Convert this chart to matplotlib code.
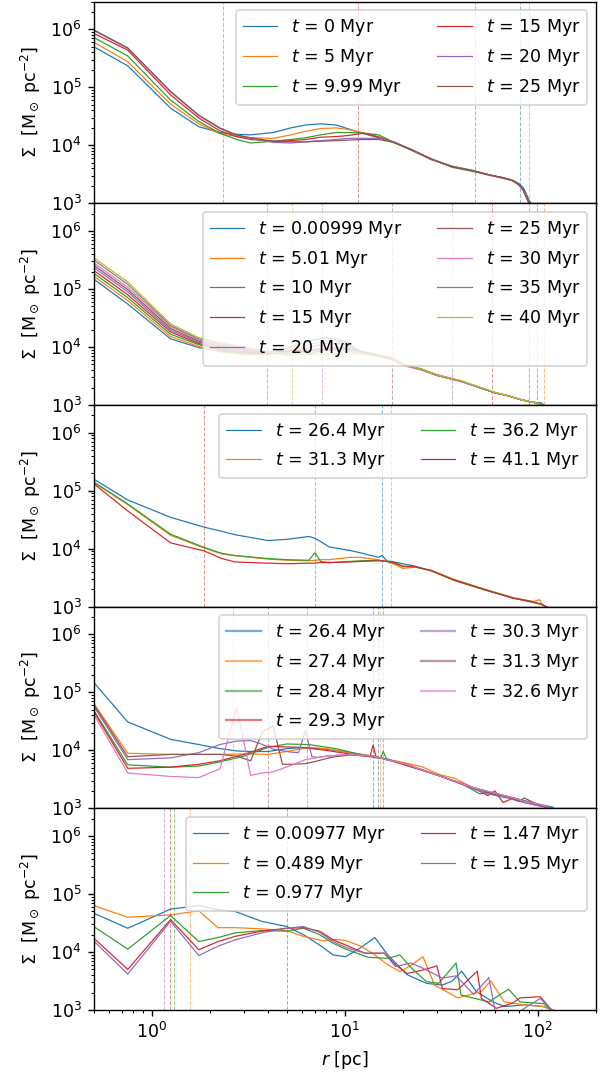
import numpy as np
import matplotlib
matplotlib.use("Agg")
import matplotlib.pyplot as plt

# ---- panel 1 ----
p1_times = ["0", "5", "9.99", "15", "20", "25"]
p1_r = [0.5, 0.75, 1.25, 1.75, 2.25, 2.75, 3.25, 4.25, 5.25, 6.25, 7.5, 9, 10.5, 12.5, 15,
        18, 22, 28, 36, 46, 56, 66, 74, 80, 84, 87, 90, 93]
p1_logsig = [
    [5.70, 5.37, 4.64, 4.32, 4.22, 4.19, 4.18, 4.22, 4.30, 4.35, 4.37, 4.35, 4.28, 4.20, 4.13,
     4.05, 3.92, 3.76, 3.63, 3.56, 3.49, 3.44, 3.40, 3.34, 3.27, 3.17, 3.06, 2.98],
    [5.78, 5.44, 4.71, 4.37, 4.20, 4.15, 4.13, 4.12, 4.18, 4.24, 4.29, 4.30, 4.27, 4.21, 4.15,
     4.04, 3.93, 3.75, 3.64, 3.56, 3.48, 3.44, 3.40, 3.33, 3.24, 3.13, 3.02, 2.95],
    [5.86, 5.54, 4.78, 4.41, 4.21, 4.10, 4.04, 4.07, 4.10, 4.13, 4.18, 4.22, 4.22, 4.21, 4.18,
     4.05, 3.92, 3.76, 3.62, 3.55, 3.49, 3.43, 3.39, 3.32, 3.23, 3.12, 3.01, 2.95],
    [5.93, 5.64, 4.87, 4.47, 4.25, 4.15, 4.10, 4.07, 4.08, 4.10, 4.14, 4.15, 4.17, 4.21, 4.14,
     4.05, 3.93, 3.77, 3.63, 3.56, 3.49, 3.44, 3.39, 3.32, 3.22, 3.11, 3.00, 2.94],
    [5.98, 5.67, 4.92, 4.51, 4.29, 4.17, 4.12, 4.05, 4.04, 4.06, 4.08, 4.10, 4.12, 4.12, 4.12,
     4.06, 3.93, 3.76, 3.64, 3.57, 3.49, 3.44, 3.39, 3.31, 3.22, 3.11, 3.00, 2.94],
    [5.99, 5.68, 4.93, 4.52, 4.30, 4.18, 4.13, 4.07, 4.06, 4.06, 4.07, 4.08, 4.09, 4.10, 4.10,
     4.05, 3.93, 3.76, 3.63, 3.56, 3.49, 3.44, 3.39, 3.32, 3.23, 3.12, 3.01, 2.95],
]
p1_rline = [80.7, 90.1, 47.2, 11.7, 2.35, np.nan]

# ---- panel 2 ----
p2_times = ["0.00999", "5.01", "10", "15", "20", "25", "30", "35", "40"]
p2_r = [0.5, 0.75, 1.25, 1.75, 2.25, 3, 4, 5, 6.5, 8, 10, 12, 15, 17.5, 20, 25, 30, 40, 50,
        60, 70, 80, 90, 100, 104, 108]
p2_logsig = [
    [5.17, 4.74, 4.14, 3.99, 3.93, 3.90, 3.90, 3.98, 4.10, 4.16, 4.10,
     3.93, 3.85, 3.80, 3.70, 3.61, 3.51, 3.41, 3.30, 3.21, 3.16, 3.10, 3.06, 3.04, 3.04, 2.99],
    [5.22, 4.80, 4.18, 4.01, 3.92, 3.87, 3.87, 3.93, 4.04, 4.11, 4.08,
     3.93, 3.86, 3.81, 3.71, 3.61, 3.52, 3.41, 3.30, 3.21, 3.16, 3.10, 3.06, 3.03, 3.01, 2.98],
    [5.27, 4.85, 4.22, 4.04, 3.95, 3.89, 3.88, 3.91, 3.99, 4.06, 4.05,
     3.92, 3.85, 3.81, 3.70, 3.62, 3.52, 3.41, 3.30, 3.21, 3.16, 3.10, 3.06, 3.03, 3.01, 2.98],
    [5.32, 4.90, 4.26, 4.06, 3.97, 3.92, 3.90, 3.93, 3.95, 3.98, 3.99,
     3.92, 3.84, 3.80, 3.70, 3.61, 3.51, 3.41, 3.30, 3.21, 3.16, 3.10, 3.06, 3.03, 3.01, 2.98],
    [5.37, 4.95, 4.29, 4.08, 4.00, 3.94, 3.90, 3.91, 3.93, 3.95, 3.96,
     3.91, 3.84, 3.79, 3.69, 3.61, 3.52, 3.41, 3.30, 3.21, 3.16, 3.10, 3.06, 3.03, 3.01, 2.98],
    [5.41, 4.99, 4.32, 4.10, 4.02, 3.96, 3.91, 3.92, 3.94, 3.98, 3.99,
     3.92, 3.85, 3.81, 3.70, 3.61, 3.51, 3.41, 3.30, 3.21, 3.16, 3.10, 3.06, 3.03, 3.01, 2.98],
    [5.45, 5.03, 4.35, 4.12, 4.04, 3.98, 3.92, 3.88, 3.91, 3.94, 3.93,
     3.90, 3.83, 3.78, 3.68, 3.60, 3.51, 3.40, 3.30, 3.21, 3.16, 3.10, 3.06, 3.03, 3.01, 2.98],
    [5.50, 5.08, 4.37, 4.14, 4.06, 3.99, 3.92, 3.86, 3.88, 3.95, 3.97,
     3.92, 3.85, 3.80, 3.70, 3.61, 3.52, 3.41, 3.30, 3.21, 3.16, 3.10, 3.06, 3.03, 3.01, 2.98],
    [5.54, 5.12, 4.40, 4.16, 4.08, 4.00, 3.92, 3.88, 3.87, 3.88, 3.88,
     3.88, 3.84, 3.80, 3.70, 3.62, 3.52, 3.42, 3.31, 3.22, 3.16, 3.10, 3.06, 3.03, 3.01, 2.98],
]
p2_rline = [99.1, 107, 90.1, 58.2, 36.1, 17.5, 7.57, 3.93, 5.33]

# ---- panel 3 ----
p3_times = ["26.4", "31.3", "36.2", "41.1"]
p3_r = [0.5, 0.75, 1.25, 1.87, 2.3, 2.7, 4, 5, 6.5, 7, 7.5, 8.3, 10.6, 12, 14.9, 15.6, 16.5,
        18, 20, 23, 28, 37, 53, 74, 95, 102, 106, 112]
p3_logsig = [
    [5.20, 4.84, 4.54, 4.37, 4.30, 4.24, 4.14, 4.16, 4.21, 4.18, 4.12, 4.03, 3.97, 3.93, 3.85,
     3.88, 3.79, 3.77, 3.74, 3.70, 3.62, 3.46, 3.29, 3.15, 3.07, 3.05, 3.03, 2.99],
    [5.14, 4.76, 4.23, 4.01, 3.91, 3.88, 3.82, 3.80, 3.79, 3.80, 3.81, 3.81, 3.85, 3.85, 3.81,
     3.79, 3.78, 3.73, 3.66, 3.68, 3.63, 3.47, 3.30, 3.16, 3.09, 3.12, 3.03, 2.99],
    [5.15, 4.77, 4.25, 4.02, 3.92, 3.88, 3.83, 3.81, 3.80, 3.93, 3.78, 3.76, 3.78, 3.79, 3.80,
     3.79, 3.78, 3.75, 3.69, 3.69, 3.62, 3.46, 3.30, 3.15, 3.08, 3.05, 3.03, 2.99],
    [5.12, 4.65, 4.10, 3.96, 3.83, 3.77, 3.75, 3.74, 3.75, 3.75, 3.76, 3.76, 3.77, 3.78, 3.79,
     3.79, 3.78, 3.76, 3.70, 3.69, 3.62, 3.45, 3.29, 3.15, 3.08, 3.05, 3.03, 2.99],
]
p3_rline = [15.6, 17.4, 7.02, 1.87]

# ---- panel 4 ----
p4_times = ["26.4", "27.4", "28.4", "29.3", "30.3", "31.3", "32.6"]
p4_r = [
    [0.5, 0.75, 1.25, 1.75, 2.25, 2.75, 3.25, 4, 5, 6.3, 8, 9.4, 14, 20.8, 31, 46, 69, 102, 120],
    [0.5, 0.75, 1.25, 2.25, 3.25, 4, 5, 6.5, 8, 9.4, 12, 14, 17, 20.8, 25, 31, 37, 46, 55, 69,
     85, 102, 115],
    [0.5, 0.75, 1.25, 1.75, 2.25, 3, 4, 5, 6.5, 9, 12, 14, 15.3, 15.8, 16.4, 20, 25, 31, 40, 50,
     55, 69, 85, 102, 118],
    [0.5, 0.75, 1.25, 1.75, 2.25, 3, 4, 6, 8, 12, 13.5, 14, 14.5, 20, 31, 46, 55, 60, 66, 75,
     85, 102, 118],
    [0.5, 0.75, 1.25, 1.75, 2.25, 2.75, 3.25, 3.75, 4.25, 5.25, 5.75, 6.25, 6.75, 7.25, 8, 10.6,
     14, 20.8, 31, 46, 55, 69, 85, 102, 120],
    [0.5, 0.75, 1.25, 1.75, 2.25, 2.75, 3.25, 3.75, 4.25, 4.75, 5.25, 6.25, 7.25, 8.5, 10.6, 14,
     20.8, 31, 46, 60, 69, 80, 85, 102, 118],
    [0.5, 0.75, 1.25, 1.75, 2.25, 2.75, 3.25, 3.75, 4.25, 5.25, 6.25, 8, 10.6, 14, 20.8, 31, 46,
     69, 90, 102, 118],
]
p4_logsig = [
    [5.17, 4.49, 4.19, 4.10, 4.03, 3.99, 3.98, 3.98, 4.03, 4.05, 4.02, 3.99, 3.90, 3.76, 3.56,
     3.36, 3.21, 3.07, 3.02],
    [4.81, 3.95, 3.93, 3.93, 3.94, 3.93, 3.98, 4.05, 4.03, 3.99, 3.93, 3.90, 3.84, 3.78, 3.72,
     3.58, 3.52, 3.36, 3.27, 3.21, 3.12, 3.06, 3.00],
    [4.69, 3.75, 3.71, 3.73, 3.80, 3.90, 4.05, 4.11, 4.10, 4.03, 3.93, 3.88, 3.86, 3.98, 3.86,
     3.76, 3.66, 3.56, 3.43, 3.25, 3.28, 3.20, 3.13, 3.05, 3.00],
    [4.67, 3.69, 3.71, 3.76, 3.82, 3.93, 4.07, 4.05, 4.00, 3.91, 3.89, 4.09, 3.89, 3.76, 3.56,
     3.36, 3.22, 3.30, 3.10, 3.18, 3.10, 3.05, 3.00],
    [4.76, 3.84, 3.87, 3.96, 4.10, 4.16, 4.17, 4.10, 4.02, 3.97, 3.96, 4.34, 3.89, 3.88, 3.90,
     3.93, 3.90, 3.76, 3.56, 3.34, 3.25, 3.18, 3.10, 3.04, 3.00],
    [4.79, 3.89, 3.93, 3.93, 3.93, 3.90, 3.82, 4.33, 4.42, 3.76, 3.76, 3.77, 3.82, 3.88, 3.92,
     3.90, 3.76, 3.56, 3.36, 3.24, 3.21, 3.12, 3.18, 3.05, 3.00],
    [4.62, 3.61, 3.55, 3.53, 3.68, 4.74, 3.57, 3.61, 3.63, 3.74, 3.84, 3.90, 3.93, 3.90, 3.76,
     3.56, 3.36, 3.21, 3.10, 3.07, 3.00],
]
p4_rline = [14.9, 15.2, 15.8, 14.0, 6.38, 3.98, 2.64]

# ---- panel 5 ----
p5_times = ["0.00977", "0.489", "0.977", "1.47", "1.95"]
p5_r = [
    [0.5, 0.75, 1.25, 1.75, 2.2, 2.7, 3.7, 5.0, 6.1, 7.4, 8.7, 10.1, 12, 14.3, 16.7, 21, 26.5,
     32, 36, 40.3, 48, 58.5, 67.4, 85, 107, 120],
    [0.5, 0.75, 1.25, 1.75, 2.2, 2.7, 3.7, 5.0, 6.1, 7.8, 8.7, 10.1, 12.1, 13.9, 16.7, 19.3,
     22.2, 25.4, 29.2, 38.5, 51, 57, 67, 85, 107, 118],
    [0.5, 0.75, 1.25, 1.75, 2.2, 2.7, 3.7, 5.0, 6.1, 7.4, 8.7, 10.1, 13.2, 16.7, 19.3, 22.2,
     26.5, 30.6, 37.7, 40, 55.7, 70.5, 80.8, 107, 118],
    [0.5, 0.75, 1.25, 1.75, 2.2, 2.7, 3.7, 5.0, 6.1, 7.4, 8.7, 10.1, 12.7, 16, 18.3, 21, 25.4,
     30, 32, 38.5, 48.5, 51, 61, 74, 81, 103, 118],
    [0.5, 0.75, 1.25, 1.75, 2.2, 2.7, 3.7, 5.0, 6.1, 7.4, 8.7, 10.1, 12.7, 16, 18.3, 22, 25.4,
     32, 37.7, 46.5, 55.7, 60, 66, 80, 90, 103, 118],
]
p5_logsig = [
    [4.67, 4.41, 4.74, 4.80, 4.73, 4.70, 4.53, 4.44, 4.30, 4.12, 3.95, 3.92, 4.07, 4.25, 3.95,
     3.61, 3.46, 3.43, 3.50, 3.67, 3.32, 3.14, 3.06, 3.09, 3.06, 3.00],
    [4.80, 4.60, 4.64, 4.71, 4.42, 4.42, 4.40, 4.37, 4.27, 4.19, 4.22, 4.20, 4.10, 3.98, 3.78,
     3.66, 3.78, 3.92, 3.43, 3.21, 3.32, 3.50, 3.14, 3.09, 3.06, 3.00],
    [4.44, 4.05, 4.63, 4.18, 4.25, 4.33, 4.37, 4.36, 4.41, 4.30, 4.15, 4.05, 3.91, 3.89, 3.95,
     3.72, 3.49, 3.46, 3.81, 3.26, 3.14, 3.36, 3.14, 3.11, 3.00],
    [4.24, 3.70, 4.56, 4.04, 4.18, 4.27, 4.36, 4.41, 4.42, 4.36, 4.21, 4.12, 3.98, 3.98, 3.78,
     3.63, 3.69, 3.76, 3.37, 3.35, 3.67, 3.20, 3.03, 3.12, 3.21, 3.23, 3.00],
    [4.19, 3.62, 4.53, 3.94, 4.10, 4.21, 4.33, 4.41, 4.44, 4.34, 4.18, 4.08, 3.98, 3.98, 3.75,
     3.81, 3.72, 3.55, 3.59, 3.27, 3.56, 3.00, 2.90, 2.97, 3.08, 3.20, 3.00],
]
p5_rline = [4.99, 1.57, 1.305, 1.235, 1.15]

panels = [
    (p1_times, [p1_r] * len(p1_times), p1_logsig, p1_rline),
    (p2_times, [p2_r] * len(p2_times), p2_logsig, p2_rline),
    (p3_times, [p3_r] * len(p3_times), p3_logsig, p3_rline),
    (p4_times, p4_r, p4_logsig, p4_rline),
    (p5_times, p5_r, p5_logsig, p5_rline),
]

DPI = 125
fig, axes = plt.subplots(5, 1, sharex=True, figsize=(605 / DPI, 1076 / DPI), dpi=DPI)
fig.subplots_adjust(left=0.155, right=0.985, top=0.9985, bottom=0.0613, hspace=0)

for k, (ax, (times, rs, logs, rline)) in enumerate(zip(axes, panels)):
    for i, t in enumerate(times):
        c = f"C{i}"
        ax.plot(rs[i], 10 ** np.array(logs[i]), color=c, lw=0.7, label=f"$t$ = {t} Myr")
        if not np.isnan(rline[i]):
            ax.axvline(rline[i], color=c, ls="--", lw=0.6, alpha=0.5)
    ax.set_xscale("log")
    ax.set_yscale("log")
    ax.set_xlim(0.5, 200)
    ax.set_ylim(1e3, 3e6)
    ax.set_ylabel(r"$\Sigma\ \ [\mathrm{M}_\odot\ \mathrm{pc}^{-2}]$")
    leg = ax.legend(loc="upper right", ncol=2)
    if k == 3:
        for h in leg.get_lines():
            h.set_linewidth(1.3)
            h.set_alpha(0.6)

axes[-1].set_xlabel(r"$r$ [pc]")

fig.savefig("out.png", dpi=DPI)
